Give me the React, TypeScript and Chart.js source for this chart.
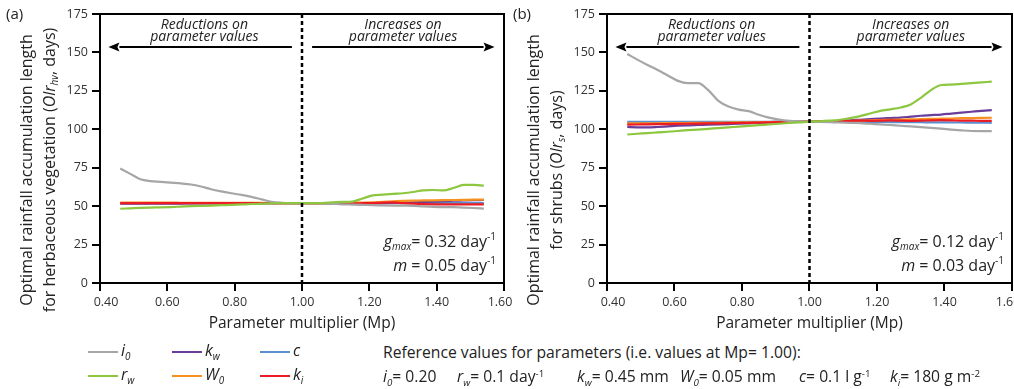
import React, { useEffect, useRef } from "react";
import { Chart, registerables } from "chart.js";

Chart.register(...registerables);

const FONT = "'Open Sans', 'Noto Sans', sans-serif";

// ---------- data ----------
const MP = [0.46, 0.49, 0.52, 0.55, 0.58, 0.61, 0.64, 0.67, 0.70, 0.73, 0.76, 0.79, 0.82, 0.85, 0.88, 0.91, 0.94, 0.97, 1.00,
  1.03, 1.06, 1.09, 1.12, 1.15, 1.18, 1.21, 1.24, 1.27, 1.30, 1.33, 1.36, 1.39, 1.42, 1.45, 1.48, 1.51, 1.54];
const X_TICKS = [0.4, 0.6, 0.8, 1.0, 1.2, 1.4, 1.6];
const Y_TICKS = [0, 25, 50, 75, 100, 125, 150, 175];

// panel (a): herbaceous vegetation
const A_I0 = [74.5, 71.0, 67.5, 66.3, 65.8, 65.3, 64.8, 64.1, 62.8, 61.0, 59.6, 58.4, 57.3, 56.0, 54.4, 52.8, 52.2, 52.0, 52.0,
  52.0, 51.8, 51.5, 51.2, 51.0, 50.8, 50.6, 50.5, 50.4, 50.3, 50.2, 49.8, 49.5, 49.4, 49.3, 49.1, 48.8, 48.4];
const A_RW = [48.3, 48.6, 48.9, 49.1, 49.2, 49.4, 49.7, 50.0, 50.2, 50.4, 50.6, 50.8, 51.1, 51.4, 51.6, 51.8, 51.9, 52.0, 52.0,
  52.0, 52.0, 52.4, 52.8, 53.0, 55.0, 57.0, 57.5, 58.0, 58.4, 59.2, 60.3, 60.5, 60.2, 61.8, 63.8, 63.8, 63.3];
const A_KW = [51.6, 51.6, 51.6, 51.7, 51.7, 51.7, 51.7, 51.8, 51.8, 51.8, 51.8, 51.9, 51.9, 51.9, 51.9, 52.0, 52.0, 52.0, 52.0,
  52.0, 52.0, 51.9, 51.9, 51.8, 51.8, 51.8, 51.9, 52.1, 52.3, 52.5, 52.7, 52.9, 53.2, 53.5, 53.7, 53.9, 54.0];
const A_C = [51.9, 51.9, 51.9, 51.9, 51.9, 51.9, 51.9, 51.9, 51.9, 52.0, 52.0, 52.0, 52.0, 52.0, 52.0, 52.0, 52.0, 52.0, 52.0,
  52.0, 52.0, 52.0, 52.0, 52.0, 52.0, 52.0, 52.0, 52.0, 52.0, 52.0, 52.0, 52.0, 52.0, 52.0, 52.0, 52.0, 52.0];
const A_W0 = [52.3, 52.3, 52.3, 52.3, 52.3, 52.3, 52.2, 52.2, 52.2, 52.2, 52.2, 52.1, 52.1, 52.1, 52.1, 52.0, 52.0, 52.0, 52.0,
  52.0, 52.0, 52.0, 52.1, 52.2, 52.3, 52.5, 52.8, 53.1, 53.4, 53.6, 53.7, 53.8, 53.9, 54.0, 54.1, 54.2, 54.2];
const A_KI = [51.9, 51.9, 51.9, 51.9, 51.9, 51.9, 51.9, 51.9, 51.9, 51.9, 51.9, 51.9, 51.9, 51.9, 52.0, 52.0, 52.0, 52.0, 52.0,
  52.0, 52.0, 51.9, 51.8, 51.8, 51.9, 52.0, 52.3, 52.4, 52.0, 51.6, 51.3, 51.2, 51.2, 51.2, 51.2, 51.2, 51.2];

// panel (b): shrubs
const B_I0 = [149.0, 145.3, 141.8, 138.6, 135.0, 131.5, 130.0, 130.0, 125.5, 118.5, 114.8, 112.8, 111.8, 109.5, 107.6, 106.3, 105.5, 105.1, 105.0,
  104.8, 104.6, 104.4, 104.2, 104.0, 103.6, 103.2, 102.8, 102.3, 101.9, 101.4, 100.9, 100.4, 99.8, 99.3, 98.9, 98.8, 98.8];
const B_RW = [96.6, 97.1, 97.5, 98.0, 98.4, 98.9, 99.4, 99.8, 100.3, 100.8, 101.3, 101.7, 102.2, 102.7, 103.1, 103.6, 104.1, 104.5, 105.0,
  105.2, 105.6, 106.2, 107.3, 108.6, 110.3, 112.0, 113.0, 114.2, 116.2, 120.5, 125.5, 128.8, 129.1, 129.5, 130.0, 130.5, 131.0];
const B_KW = [101.5, 101.3, 101.2, 101.5, 101.9, 102.3, 102.6, 102.8, 103.0, 103.2, 103.4, 103.6, 103.9, 104.2, 104.4, 104.6, 104.8, 104.9, 105.0,
  105.1, 105.3, 105.5, 105.8, 106.2, 106.6, 107.0, 107.3, 107.6, 108.2, 108.8, 109.2, 109.6, 110.2, 110.8, 111.4, 112.0, 112.5];
const B_C = [104.8, 104.8, 104.8, 104.8, 104.8, 104.8, 104.8, 104.8, 104.8, 104.9, 104.9, 104.9, 104.9, 104.9, 104.9, 105.0, 105.0, 105.0, 105.0,
  105.0, 104.9, 104.9, 104.9, 104.8, 104.8, 104.8, 104.7, 104.7, 104.6, 104.6, 104.5, 104.5, 104.4, 104.4, 104.3, 104.3, 104.2];
const B_W0 = [103.8, 103.8, 103.9, 103.9, 104.0, 104.0, 104.1, 104.2, 104.2, 104.3, 104.4, 104.5, 104.5, 104.6, 104.7, 104.8, 104.9, 104.9, 105.0,
  105.1, 105.2, 105.4, 105.5, 105.6, 105.8, 106.0, 106.2, 106.3, 106.4, 106.6, 106.8, 106.9, 107.0, 107.2, 107.3, 107.4, 107.5];
const B_KI = [103.0, 103.1, 103.2, 103.3, 103.4, 103.5, 103.6, 103.7, 103.8, 103.9, 104.0, 104.1, 104.2, 104.4, 104.5, 104.6, 104.7, 104.9, 105.0,
  105.1, 105.2, 105.3, 105.4, 105.6, 105.5, 105.6, 105.8, 105.6, 105.5, 105.6, 105.8, 105.9, 105.8, 105.6, 105.6, 105.5, 105.5];

// ---------- series styling (draw order: first = on top) ----------
const SERIES = [
  { key: "rw", sym: "r", sub: "w", color: "#8dc63f" },
  { key: "i0", sym: "i", sub: "0", color: "#a6a6a6" },
  { key: "ki", sym: "k", sub: "i", color: "#ed1c24" },
  { key: "W0", sym: "W", sub: "0", color: "#f7901e" },
  { key: "kw", sym: "k", sub: "w", color: "#6a3d9a" },
  { key: "c", sym: "c", sub: "", color: "#5b8fd0" },
];

type Run = { t: string; it?: boolean; sub?: boolean; sup?: boolean };

const PANELS = [
  {
    tag: "(a)",
    values: { i0: A_I0, rw: A_RW, kw: A_KW, c: A_C, W0: A_W0, ki: A_KI } as Record<string, number[]>,
    yTitle1: [{ t: "Optimal rainfall accumulation length" }] as Run[],
    yTitle2: [{ t: "for herbaceous vegetation (" }, { t: "Olr", it: true }, { t: "hv", it: true, sub: true }, { t: ", days)" }] as Run[],
    gmax: "0.32",
    m: "0.05",
    left: 0,
    width: 512,
    padRight: 8,
  },
  {
    tag: "(b)",
    values: { i0: B_I0, rw: B_RW, kw: B_KW, c: B_C, W0: B_W0, ki: B_KI } as Record<string, number[]>,
    yTitle1: [{ t: "Optimal rainfall accumulation length" }] as Run[],
    yTitle2: [{ t: "for shrubs (" }, { t: "Olr", it: true }, { t: "s", it: true, sub: true }, { t: ", days)" }] as Run[],
    gmax: "0.12",
    m: "0.03",
    left: 507,
    width: 507,
    padRight: 2,
  },
];

// annotation anchors in data space
const DIVIDER_X = 1.0;
const ARROW_Y = 153.5;
const LEFT_ARROW = { from: 0.97, to: 0.425 };
const RIGHT_ARROW = { from: 1.03, to: 1.572 };
const REDUCE_X = 0.71;
const INCREASE_X = 1.3;
const NOTE_LINE1_Y = 167.8;
const NOTE_LINE2_Y = 160.3;
const GMAX_Y = 26.6;
const M_Y = 11;

function fontFor(r: Run, size: number) {
  const s = r.sub || r.sup ? Math.round(size * 0.62) : size;
  return `${r.it ? "italic " : ""}${s}px ${FONT}`;
}
function runsWidth(ctx: CanvasRenderingContext2D, runs: Run[], size: number) {
  let w = 0;
  for (const r of runs) {
    ctx.font = fontFor(r, size);
    w += ctx.measureText(r.t).width;
  }
  return w;
}
function drawRuns(ctx: CanvasRenderingContext2D, runs: Run[], x: number, y: number, size: number, align: string) {
  const w = runsWidth(ctx, runs, size);
  let cx = align === "right" ? x - w : align === "center" ? x - w / 2 : x;
  ctx.textAlign = "left";
  ctx.textBaseline = "middle";
  for (const r of runs) {
    ctx.font = fontFor(r, size);
    const dy = r.sub ? size * 0.32 : r.sup ? -size * 0.32 : 0;
    ctx.fillText(r.t, cx, y + dy);
    cx += ctx.measureText(r.t).width;
  }
}
function arrow(ctx: CanvasRenderingContext2D, x0: number, y: number, x1: number) {
  const dir = Math.sign(x1 - x0);
  const head = 11;
  ctx.beginPath();
  ctx.moveTo(x0, y);
  ctx.lineTo(x1 - dir * head, y);
  ctx.stroke();
  ctx.beginPath();
  ctx.moveTo(x1, y);
  ctx.lineTo(x1 - dir * head, y - 4.5);
  ctx.lineTo(x1 - dir * head + dir * 2, y);
  ctx.lineTo(x1 - dir * head, y + 4.5);
  ctx.closePath();
  ctx.fill();
}

function decor(panel: any) {
  return {
    id: "decor",
    afterDatasetsDraw(chart: any) {
      const { ctx, chartArea: a, scales } = chart;
      const x = scales.x;
      const y = scales.y;
      ctx.save();
      ctx.strokeStyle = "#000";
      ctx.fillStyle = "#000";
      // frame top/right
      ctx.lineWidth = 2;
      ctx.beginPath();
      ctx.moveTo(a.left, a.top);
      ctx.lineTo(a.right, a.top);
      ctx.lineTo(a.right, a.bottom);
      ctx.stroke();
      // divider
      const dx = x.getPixelForValue(DIVIDER_X);
      ctx.setLineDash([4, 3]);
      ctx.lineWidth = 2.5;
      ctx.beginPath();
      ctx.moveTo(dx, a.top);
      ctx.lineTo(dx, a.bottom);
      ctx.stroke();
      ctx.setLineDash([]);
      // arrows
      ctx.lineWidth = 2;
      const ay = y.getPixelForValue(ARROW_Y);
      arrow(ctx, x.getPixelForValue(LEFT_ARROW.from), ay, x.getPixelForValue(LEFT_ARROW.to));
      arrow(ctx, x.getPixelForValue(RIGHT_ARROW.from), ay, x.getPixelForValue(RIGHT_ARROW.to));
      // notes
      ctx.fillStyle = "#222";
      ctx.font = `italic 14px ${FONT}`;
      ctx.textAlign = "center";
      ctx.textBaseline = "middle";
      ctx.fillText("Reductions on", x.getPixelForValue(REDUCE_X), y.getPixelForValue(NOTE_LINE1_Y));
      ctx.fillText("parameter values", x.getPixelForValue(REDUCE_X), y.getPixelForValue(NOTE_LINE2_Y));
      ctx.fillText("Increases on", x.getPixelForValue(INCREASE_X), y.getPixelForValue(NOTE_LINE1_Y));
      ctx.fillText("parameter values", x.getPixelForValue(INCREASE_X), y.getPixelForValue(NOTE_LINE2_Y));
      // parameter notes
      drawRuns(ctx, [{ t: "g", it: true }, { t: "max", it: true, sub: true }, { t: "= " + panel.gmax + " day" }, { t: "-1", sup: true }],
        a.right - 8, y.getPixelForValue(GMAX_Y), 16, "right");
      drawRuns(ctx, [{ t: "m", it: true }, { t: " = " + panel.m + " day" }, { t: "-1", sup: true }],
        a.right - 8, y.getPixelForValue(M_Y), 16, "right");
      // y title
      ctx.save();
      ctx.translate(a.left - 73, 170);
      ctx.rotate(-Math.PI / 2);
      drawRuns(ctx, panel.yTitle1, 0, 0, 16, "center");
      ctx.restore();
      ctx.save();
      ctx.translate(a.left - 50, 170);
      ctx.rotate(-Math.PI / 2);
      drawRuns(ctx, panel.yTitle2, 0, 0, 16, "center");
      ctx.restore();
      // panel tag
      ctx.font = `15px ${FONT}`;
      ctx.textAlign = "left";
      ctx.fillText(panel.tag, 6, 15);
      // x tick labels (edge labels nudged inward)
      ctx.fillStyle = "#333";
      ctx.font = `12.5px ${FONT}`;
      ctx.textAlign = "center";
      X_TICKS.forEach((v, i) => {
        let px = x.getPixelForValue(v);
        if (i === 0) px += 6;
        if (i === X_TICKS.length - 1) px -= 4;
        ctx.fillText(v.toFixed(2), px, a.bottom + 19);
      });
      ctx.restore();
    },
  };
}

function makeConfig(panel: any): any {
  const gridCfg = { drawOnChartArea: false, drawTicks: true, tickLength: 8, tickWidth: 2, tickColor: "#000", lineWidth: 2, color: "#000" };
  return {
    type: "line",
    data: {
      datasets: SERIES.map((s) => ({
        label: s.key,
        data: MP.map((xv, i) => ({ x: xv, y: panel.values[s.key][i] })),
        borderColor: s.color,
        backgroundColor: s.color,
        borderWidth: 2.2,
        pointRadius: 0,
        fill: false,
        cubicInterpolationMode: "monotone",
      })),
    },
    options: {
      responsive: false,
      animation: false,
      devicePixelRatio: 1,
      layout: { padding: { top: 14, right: panel.padRight, left: 0, bottom: 0 } },
      plugins: { legend: { display: false }, tooltip: { enabled: false } },
      scales: {
        x: {
          type: "linear",
          min: 0.4,
          max: 1.6,
          afterBuildTicks: (s: any) => { s.ticks = X_TICKS.map((v) => ({ value: v })); },
          ticks: { display: false },
          grid: gridCfg,
          border: { display: true, color: "#000", width: 2 },
          title: { display: true, text: "Parameter multiplier (Mp)", color: "#222", font: { family: FONT, size: 15.5 }, padding: { top: 0, bottom: 7 } },
          afterFit: (s: any) => { s.height = 57; s.paddingLeft = 0; s.paddingRight = 0; },
        },
        y: {
          type: "linear",
          min: 0,
          max: 175,
          afterBuildTicks: (s: any) => { s.ticks = Y_TICKS.map((v) => ({ value: v })); },
          ticks: { color: "#333", font: { family: FONT, size: 12.5 }, padding: 4 },
          grid: gridCfg,
          border: { display: true, color: "#000", width: 2 },
          afterFit: (s: any) => { s.width = 100; s.paddingTop = 0; s.paddingBottom = 0; },
        },
      },
    },
    plugins: [decor(panel)],
  };
}

function Panel({ panel }: { panel: any }) {
  const ref = useRef<HTMLCanvasElement>(null);
  useEffect(() => {
    const chart = new Chart(ref.current as HTMLCanvasElement, makeConfig(panel));
    return () => chart.destroy();
  }, []);
  return (
    <canvas
      ref={ref}
      width={panel.width}
      height={340}
      style={{ position: "absolute", left: panel.left, top: 0, width: panel.width, height: 340, display: "block" }}
    />
  );
}

// ---------- legend & reference values ----------
const LEGEND_ROWS = [["i0", "kw", "c"], ["rw", "W0", "ki"]];
const LEGEND_COLS_X = [88, 172, 260];
const LEGEND_ROWS_Y = [352, 376];

const REF_HEADER = "Reference values for parameters (i.e. values at Mp= 1.00):";
const REF_ITEMS = [
  { sym: "i", sub: "0", text: "= 0.20", sup: "" },
  { sym: "r", sub: "w", text: "= 0.1 day", sup: "-1" },
  { sym: "k", sub: "w", text: "= 0.45 mm", sup: "" },
  { sym: "W", sub: "0", text: "= 0.05 mm", sup: "" },
  { sym: "c", sub: "", text: "= 0.1 l g", sup: "-1" },
  { sym: "k", sub: "i", text: "= 180 g m", sup: "-2" },
];
const REF_ITEMS_X = [383, 457, 577, 680, 799, 890];

function Sym({ s, sub }: { s: string; sub: string }) {
  return (
    <span style={{ fontStyle: "italic" }}>
      {s}
      {sub ? <span style={{ fontSize: "0.62em", position: "relative", top: "0.4em" }}>{sub}</span> : null}
    </span>
  );
}

export default function App() {
  const textStyle: any = { position: "absolute", fontFamily: FONT, fontSize: 15.7, color: "#222", lineHeight: "20px", whiteSpace: "nowrap" };
  return (
    <div style={{ position: "absolute", left: 0, top: 0, width: 1014, height: 389, background: "#fff", overflow: "hidden" }}>
      {PANELS.map((p) => <Panel key={p.tag} panel={p} />)}
      {LEGEND_ROWS.map((row, ri) =>
        row.map((key, ci) => {
          const s = SERIES.find((q) => q.key === key)!;
          const y = LEGEND_ROWS_Y[ri];
          const x = LEGEND_COLS_X[ci];
          return (
            <React.Fragment key={key}>
              <div style={{ position: "absolute", left: x, top: y - 1.25, width: 30, height: 2.5, background: s.color }} />
              <div style={{ ...textStyle, left: x + 33, top: y - 12, fontSize: 16 }}>
                <Sym s={s.sym} sub={s.sub} />
              </div>
            </React.Fragment>
          );
        })
      )}
      <div style={{ ...textStyle, left: 383, top: LEGEND_ROWS_Y[0] - 10 }}>{REF_HEADER}</div>
      {REF_ITEMS.map((it, i) => (
        <div key={i} style={{ ...textStyle, left: REF_ITEMS_X[i], top: LEGEND_ROWS_Y[1] - 10 }}>
          <Sym s={it.sym} sub={it.sub} />
          {it.text}
          {it.sup ? <span style={{ fontSize: "0.62em", position: "relative", top: "-0.55em" }}>{it.sup}</span> : null}
        </div>
      ))}
    </div>
  );
}
